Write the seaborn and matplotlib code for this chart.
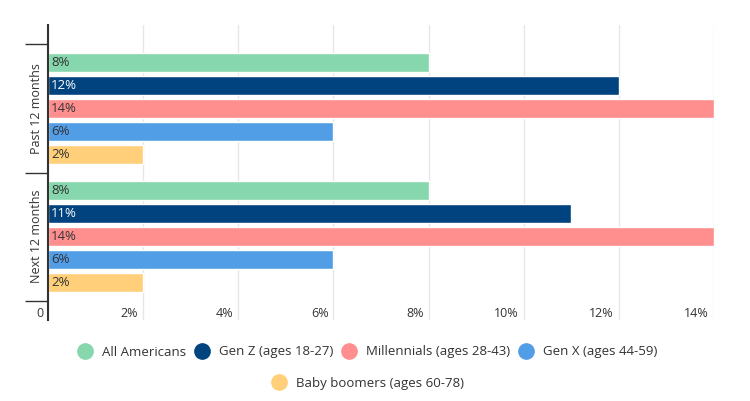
import matplotlib
matplotlib.use("Agg")
import matplotlib.pyplot as plt
from matplotlib.lines import Line2D
import seaborn as sns
import pandas as pd

periods = ["Past 12 months", "Next 12 months"]
groups = ["All Americans", "Gen Z (ages 18-27)", "Millennials (ages 28-43)",
          "Gen X (ages 44-59)", "Baby boomers (ages 60-78)"]
past_values = [8, 12, 14, 6, 2]
next_values = [8, 11, 14, 6, 2]
colors = ["#86d7ad", "#01437f", "#ff8f8f", "#529ee6", "#ffcf79"]
label_colors = ["#333333", "#ffffff", "#333333", "#333333", "#333333"]
x_ticks = [0, 2, 4, 6, 8, 10, 12, 14]
x_tick_labels = ["0", "2%", "4%", "6%", "8%", "10%", "12%", "14%"]

rows = []
for p, vals in zip(periods, [past_values, next_values]):
    for g, v in zip(groups, vals):
        rows.append({"period": p, "group": g, "value": v})
df = pd.DataFrame(rows)

sns.set_theme(style="white")
plt.rcParams["font.family"] = ["Open Sans", "DejaVu Sans"]
TXT = "#333333"

W, H = 750, 401
fig = plt.figure(figsize=(W / 100, H / 100), dpi=100)
ax = fig.add_axes([48 / W, 1 - 320 / H, (714 - 48) / W, (320 - 25) / H])

sns.barplot(data=df, y="period", x="value", hue="group", orient="h",
            order=periods, hue_order=groups, palette=dict(zip(groups, colors)),
            width=0.9, gap=0.18, legend=False, ax=ax, saturation=1)

ax.set_xlim(0, 14)
ax.set_ylim(1.652, -0.652)
ax.set_xlabel("")
ax.set_ylabel("")

# grid
ax.set_xticks(x_ticks)
ax.xaxis.grid(True, color="#e6e6e6", linewidth=1)
ax.set_axisbelow(True)
ax.tick_params(axis="x", length=0, labelbottom=False)
for xv, lab in zip(x_ticks, x_tick_labels):
    ax.annotate(lab, xy=(xv, 0), xycoords=("data", "axes fraction"),
                xytext=(-3.5, 5), textcoords="offset points",
                ha="right", va="center", fontsize=9, color=TXT)

for s in ["top", "right", "bottom"]:
    ax.spines[s].set_visible(False)
ax.spines["left"].set_color("#333333")
ax.spines["left"].set_linewidth(1.5)

# y axis
ax.set_yticks([-0.5, 0.5, 1.5], minor=True)
ax.tick_params(axis="y", which="minor", length=16.5, width=1, color="#333333", left=True)
ax.tick_params(axis="y", which="major", length=0, pad=3.5, labelsize=9, labelcolor=TXT)
for t in ax.get_yticklabels():
    t.set_rotation(90)
    t.set_va("center")

# bar labels
for cont, lc in zip(ax.containers, label_colors):
    for bar in cont:
        v = bar.get_width()
        ax.annotate(f"{v:g}%", xy=(0, bar.get_y() + bar.get_height() / 2),
                    xytext=(2.2, 0), textcoords="offset points",
                    ha="left", va="center", fontsize=9.5, color=lc)

# legend
handles = [Line2D([], [], marker="o", linestyle="", markersize=11,
                  markerfacecolor=c, markeredgecolor=c) for c in colors]
common = dict(loc="center", frameon=False, fontsize=9.5, handletextpad=0.8,
              handlelength=1.0, labelcolor=TXT)
leg1 = fig.legend(handles[:4], groups[:4], bbox_to_anchor=(368 / W, 1 - 352 / H),
                  ncol=4, columnspacing=0.7, **common)
leg2 = fig.legend(handles[4:], groups[4:], bbox_to_anchor=(368 / W, 1 - 383 / H),
                  ncol=1, **common)

fig.savefig("out.png", dpi=100)
